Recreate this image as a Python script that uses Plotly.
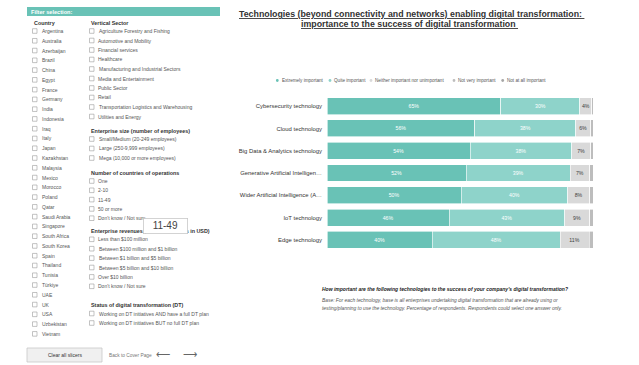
import plotly.graph_objects as go

W, H = 639, 365
FONT = "Arial"

# ---------------- data ----------------
technologies = [
    "Cybersecurity technology",
    "Cloud technology",
    "Big Data & Analytics technology",
    "Generative Artificial Intelligen…",
    "Wider Artificial Intelligence (A…",
    "IoT technology",
    "Edge technology",
]
extremely = [65.4, 55.6, 53.8, 52.3, 50.4, 45.9, 39.6]
quite = [29.7, 37.9, 38.2, 39.1, 40.1, 43.4, 48.0]
neither = [4.4, 5.6, 7.1, 7.3, 8.2, 9.4, 10.9]
not_very = [0.5, 0.9, 0.9, 1.3, 1.3, 1.3, 1.5]
not_at_all = [0, 0, 0, 0, 0, 0, 0]

series_names = ["Extremely important", "Quite important",
                "Neither important nor unimportant", "Not very important",
                "Not at all important"]
series_colors = ["#69C2B6", "#8ED3CA", "#D9D9D9", "#BDBDBD", "#A6A6A6"]
series_values = [extremely, quite, neither, not_very, not_at_all]

countries = ["Argentina", "Australia", "Azerbaijan", "Brazil", "China", "Egypt",
             "France", "Germany", "India", "Indonesia", "Iraq", "Italy", "Japan",
             "Kazakhstan", "Malaysia", "Mexico", "Morocco", "Poland", "Qatar",
             "Saudi Arabia", "Singapore", "South Africa", "South Korea", "Spain",
             "Thailand", "Tunisia", "Türkiye", "UAE", "UK", "USA", "Uzbekistan",
             "Vietnam"]
sectors = ["Agriculture Forestry and Fishing", "Automotive and Mobility",
           "Financial services", "Healthcare", "Manufacturing and Industrial Sectors",
           "Media and Entertainment", "Public Sector", "Retail",
           "Transportation Logistics and Warehousing", "Utilities and Energy"]
sizes = ["Small/Medium (20-249 employees)", "Large (250-9,999 employees)",
         "Mega (10,000 or more employees)"]
n_countries = ["One", "2-10", "11-49", "50 or more", "Don't know / Not sure"]
revenues = ["Less than $100 million", "Between $100 million and $1 billion",
            "Between $1 billion and $5 billion", "Between $5 billion and $10 billion",
            "Over $10 billion", "Don't know / Not sure"]
dt_status = ["Working on DT initiatives AND have a full DT plan",
             "Working on DT initiatives BUT no full DT plan"]

# ---------------- helpers ----------------
def px(x):
    return x / W

def py(y):
    return 1 - y / H

fig = go.Figure()

text_colors = ["white", "white", "#404040", "#404040", "#404040"]
for i, (name, col, vals) in enumerate(zip(series_names, series_colors, series_values)):
    fig.add_trace(go.Bar(
        y=technologies, x=vals, name=name, orientation="h",
        marker=dict(color=col, line=dict(color="white", width=0.6)),
        text=[f"{v:.0f}%" for v in vals] if i < 3 else None,
        textposition="inside" if i < 3 else "none",
        insidetextanchor="middle",
        textangle=0,
        constraintext="none",
        textfont=dict(size=5.2, color=text_colors[i], family=FONT),
        showlegend=False,
        hoverinfo="skip",
    ))

shapes = []
annotations = []

def ann(x, y, text, size=5.2, color="#555555", anchor="left", bold=False, **kw):
    if bold:
        text = f"<b>{text}</b>"
    d = dict(x=px(x), y=py(y), xref="paper", yref="paper", text=text,
             showarrow=False, xanchor=anchor, yanchor="middle",
             font=dict(size=size, color=color, family=FONT))
    d.update(kw)
    annotations.append(d)

def checkbox(x, y):
    shapes.append(dict(type="rect", xref="paper", yref="paper",
                       x0=px(x), x1=px(x + 4.5), y0=py(y + 2.3), y1=py(y - 2.3),
                       line=dict(color="#9a9a9a", width=0.6), fillcolor="white"))

# ---- title ----
ann(411, 13.5, "<u>Technologies (beyond connectivity and networks) enabling digital transformation: </u>",
    size=8.8, color="#333333", anchor="center", bold=True)
ann(409, 24, "<u>importance to the success of digital transformation </u>",
    size=8.8, color="#333333", anchor="center", bold=True)

# ---- legend (manual) ----
leg_x = [277.3, 330, 371, 454, 502.7]
for x, name, col in zip(leg_x, series_names, series_colors):
    shapes.append(dict(type="circle", xref="paper", yref="paper",
                       x0=px(x - 1.4), x1=px(x + 1.4), y0=py(80.5 + 1.4), y1=py(80.5 - 1.4),
                       fillcolor=col, line=dict(width=0)))
    ann(x + 2.3, 80.5, name, size=4.6, color="#555555")

# ---- footnote ----
ann(320, 289, "<i>How important are the following technologies to the success of your company's digital transformation?</i>",
    size=5.0, color="#222222", bold=True)
ann(320, 300.5, "<i>Base: For each technology, base is all enterprises undertaking digital transformation that are already using or</i>",
    size=4.9, color="#555555")
ann(320, 308.7, "<i>testing/planning to use the technology. Percentage of respondents. Respondents could select one answer only.</i>",
    size=4.9, color="#555555")

# ---- filter panel ----
shapes.append(dict(type="rect", xref="paper", yref="paper",
                   x0=px(27), x1=px(220), y0=py(16), y1=py(7),
                   fillcolor="#69C2B6", line=dict(width=0)))
ann(29, 11.5, "Filter selection:", size=5.6, color="white", bold=True)

ann(32, 23.3, "Country", size=5.4, color="#333333", bold=True)
for i, c in enumerate(countries):
    y = 31 + i * 9.77
    checkbox(32.5, y)
    ann(39.5, y, c, size=5.0)

def group(title, ty, items, y0, step):
    ann(89, ty, title, size=5.4, color="#333333", bold=True)
    for i, it in enumerate(items):
        y = y0 + i * step
        checkbox(89.5, y)
        ann(96.5, y, it, size=5.0)

group("Vertical Sector", 23.3, sectors, 31, 9.5)
group("Enterprise size (number of employees)", 131, sizes, 139, 9.5)
group("Number of countries of operations", 173, n_countries, 181, 9.3)
group("Enterprise revenues (annual revenues in USD)", 231, revenues, 239.3, 9.4)
group("Status of digital transformation (DT)", 305, dt_status, 313.5, 9.5)

# tooltip
ann(165, 226, "11-49", size=10, color="#444444", anchor="center",
    width=40, height=11, align="center",
    bgcolor="white", bordercolor="#c8c8c8", borderwidth=0.8, borderpad=1.5)

# bottom buttons
shapes.append(dict(type="rect", xref="paper", yref="paper",
                   x0=px(27), x1=px(102), y0=py(362), y1=py(348),
                   fillcolor="#f0f0f0", line=dict(color="#c8c8c8", width=0.8)))
ann(64.5, 355, "Clear all slicers", size=5.0, color="#333333", anchor="center")
ann(107, 355.5, "Back to Cover Page", size=4.8, color="#777777")
ann(163, 354.5, "⟵", size=10, color="#666666", anchor="center")
ann(190, 354.5, "⟶", size=10, color="#666666", anchor="center")

fig.update_layout(
    width=W, height=H, autosize=False,
    margin=dict(l=0, r=0, t=0, b=0),
    paper_bgcolor="white", plot_bgcolor="white",
    barmode="stack", bargap=0.24,
    showlegend=False,
    font=dict(family=FONT),
    xaxis=dict(domain=[px(327), px(593)], range=[0, 100], visible=False, fixedrange=True),
    yaxis=dict(domain=[py(251), py(95)], autorange="reversed", showgrid=False,
               showline=False, ticks="", ticklabelstandoff=4, fixedrange=True,
               tickfont=dict(size=5.9, color="#333333", family=FONT)),
    shapes=shapes,
    annotations=annotations,
    uniformtext=dict(mode=False),
)

fig.write_html("out.html", config={"displayModeBar": False},
               post_script="document.body.style.margin='0px';document.body.style.overflow='hidden';")
